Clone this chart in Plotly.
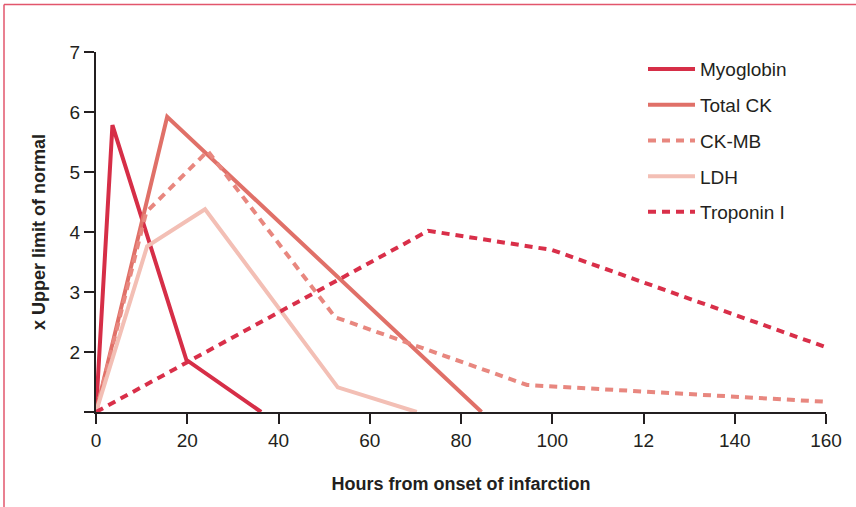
import plotly.graph_objects as go

# Data (hours, x upper limit of normal)
myo_x = [0, 3.6, 19.8, 36.2]
myo_y = [1.0, 5.78, 1.87, 1.0]
ck_x = [0, 15.6, 84.5]
ck_y = [1.0, 5.92, 1.0]
ckmb_x = [0, 11.0, 24.5, 52.4, 94.5, 160]
ckmb_y = [1.0, 4.33, 5.35, 2.58, 1.45, 1.17]
ldh_x = [0, 11.2, 23.9, 53.0, 70.3]
ldh_y = [1.0, 3.76, 4.38, 1.41, 1.0]
trop_x = [0, 72.8, 100, 160]
trop_y = [1.0, 4.02, 3.7, 2.08]

x_ticks = [0, 20, 40, 60, 80, 100, 120, 140, 160]
x_ticklabels = ["0", "20", "40", "60", "80", "100", "12", "140", "160"]
y_ticks = [1, 2, 3, 4, 5, 6, 7]
y_ticklabels = ["", "2", "3", "4", "5", "6", "7"]

FONT = "Liberation Sans, Arial, sans-serif"
INK = "#231f20"

series = [
    ("Myoglobin", myo_x, myo_y, "#d62e47", "solid"),
    ("Total CK", ck_x, ck_y, "#e07068", "solid"),
    ("CK-MB", ckmb_x, ckmb_y, "#e8877f", "8px,6px"),
    ("LDH", ldh_x, ldh_y, "#f3bfb5", "solid"),
    ("Troponin I", trop_x, trop_y, "#d92f49", "8px,6px"),
]

fig = go.Figure()
for i, (name, xs, ys, col, dash) in enumerate(series):
    fig.add_trace(go.Scatter(
        x=xs, y=ys, mode="lines", name=name, legendgroup=f"g{i}",
        line=dict(color=col, width=4, dash=dash),
        cliponaxis=False,
    ))

fig.update_layout(
    width=856, height=507,
    margin=dict(l=96, r=30, t=52, b=95),
    paper_bgcolor="white", plot_bgcolor="white",
    font=dict(family=FONT, size=19, color=INK),
    showlegend=True,
    legend=dict(
        x=(643 - 96) / 730, y=1.005, xanchor="left", yanchor="top",
        font=dict(family=FONT, size=19, color=INK),
        tracegroupgap=8, itemwidth=47, bgcolor="rgba(0,0,0,0)",
    ),
    xaxis=dict(
        range=[0, 160], tickvals=x_ticks, ticktext=x_ticklabels,
        showgrid=False, zeroline=False, showline=True,
        linecolor=INK, linewidth=2, ticks="outside", ticklen=10,
        tickwidth=2, tickcolor=INK, tickfont=dict(size=19),
        title=dict(text="Hours from onset of infarction",
                   font=dict(family=FONT, size=18, weight="bold"),
                   standoff=28),
    ),
    yaxis=dict(
        range=[1, 7], tickvals=y_ticks, ticktext=y_ticklabels,
        showgrid=False, zeroline=False, showline=True,
        linecolor=INK, linewidth=2, ticks="outside", ticklen=10,
        tickwidth=2, tickcolor=INK, tickfont=dict(size=19),
        title=dict(text="x Upper limit of normal",
                   font=dict(family=FONT, size=18, weight="bold"),
                   standoff=19),
    ),
)

# decorative frame (top and left edges)
border = "#e2566c"
fig.add_shape(type="line", xref="paper", yref="paper",
              x0=(4 - 96) / 730, x1=(856 - 96) / 730,
              y0=(412 - 4.5) / 360, y1=(412 - 4.5) / 360,
              line=dict(color=border, width=1.5))
fig.add_shape(type="line", xref="paper", yref="paper",
              x0=(4 - 96) / 730, x1=(4 - 96) / 730,
              y0=(412 - 4.5) / 360, y1=(412 - 507) / 360,
              line=dict(color=border, width=1.5))

fig.write_html("out.html", config={"displayModeBar": False})

# remove the browser's default 8px body margin so the figure sits at (0, 0)
with open("out.html", encoding="utf-8") as f:
    html = f.read()
html = html.replace("<body>", '<body style="margin:0;padding:0;overflow:hidden">', 1)
with open("out.html", "w", encoding="utf-8") as f:
    f.write(html)
